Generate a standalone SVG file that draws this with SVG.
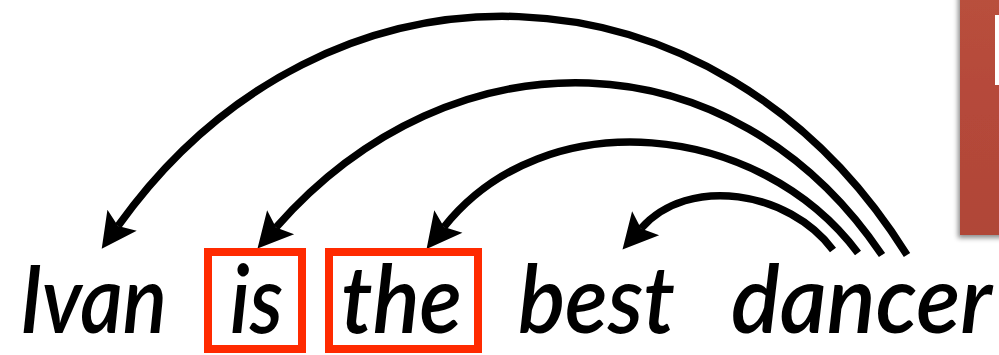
<svg xmlns="http://www.w3.org/2000/svg" width="999" height="355" viewBox="0 0 999 355">
<style>
.word{font-family:Lato,"Open Sans","Liberation Sans",sans-serif;font-style:italic;font-weight:600;font-size:94px;fill:#000}
.box{fill:none;stroke:#ff2a00;stroke-width:8}
.arc{fill:none;stroke:#000;stroke-width:7.5;marker-end:url(#ah)}
</style>
<defs>
<marker id="ah" markerUnits="userSpaceOnUse" orient="auto" refX="7" refY="18" markerWidth="36" markerHeight="36" viewBox="0 0 36 36" overflow="visible">
<path d="M0,0 L35,18 L0,36 L7,18 Z" fill="#000"/>
</marker>
<filter id="sh" x="-20%" y="-20%" width="140%" height="140%">
<feDropShadow dx="-2" dy="3" stdDeviation="2.5" flood-color="#000" flood-opacity="0.45"/>
</filter>
<linearGradient id="brick" x1="0" y1="0" x2="0" y2="1">
<stop offset="0" stop-color="#b9503c"/>
<stop offset="0.5" stop-color="#b5483a"/>
<stop offset="1" stop-color="#b04637"/>
</linearGradient>
</defs>
<g id="panel">
<rect x="960" y="-10" width="60" height="245" fill="url(#brick)" filter="url(#sh)"/>
<rect x="995" y="15" width="10" height="70" fill="#fff"/>
</g>
<g id="connectors">
<path class="arc" d="M907,255 C716,-51 326,-65 118,226"/>
<path class="arc" d="M882,255 C732,33 452,27.5 276,227.5"/>
<path class="arc" d="M858,253 C759,121 545,100 444,227"/>
<path class="arc" d="M833,250 C789,191 688.5,174.5 641,228.5"/>
</g>
<g id="w-ivan"><text class="word" x="20" y="333" textLength="147" lengthAdjust="spacingAndGlyphs">Ivan</text></g>
<g id="w-is"><rect class="box" x="208" y="252" width="94" height="97"/><text class="word" x="230" y="333" textLength="53" lengthAdjust="spacingAndGlyphs">is</text></g>
<g id="w-the"><rect class="box" x="329" y="252" width="149" height="97"/><text class="word" x="341" y="333" textLength="121" lengthAdjust="spacingAndGlyphs">the</text></g>
<g id="w-best"><text class="word" x="518" y="333" textLength="157" lengthAdjust="spacingAndGlyphs">best</text></g>
<g id="w-dancer"><text class="word" x="731" y="333" textLength="261" lengthAdjust="spacingAndGlyphs">dancer</text></g>
</svg>
